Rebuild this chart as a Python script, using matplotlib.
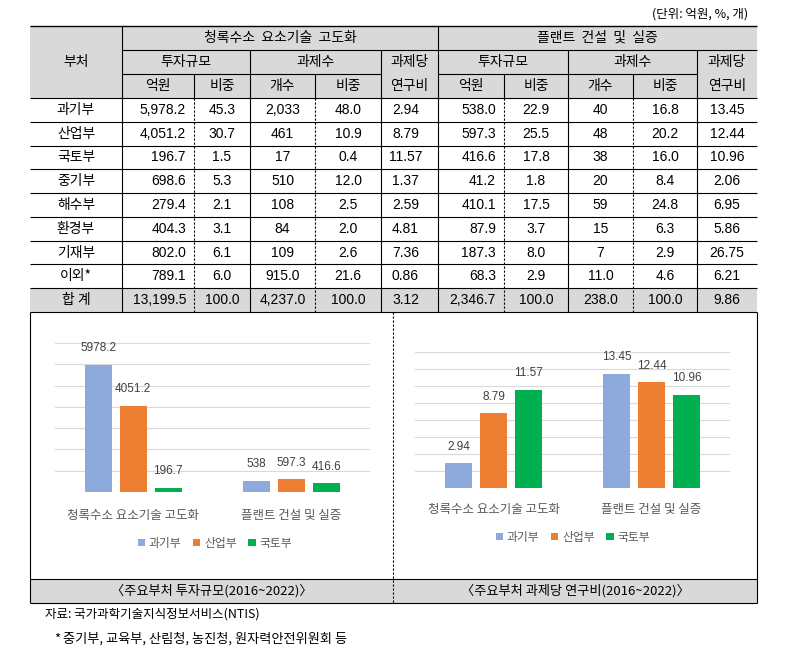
import matplotlib
matplotlib.use('Agg')
import matplotlib.pyplot as plt
import numpy as np
from matplotlib.patches import Rectangle

# ---------------- data ----------------
depts = ['과기부', '산업부', '국토부', '중기부', '해수부', '환경부', '기재부', '이외*', '합 계']
a_won = ['5,978.2', '4,051.2', '196.7', '698.6', '279.4', '404.3', '802.0', '789.1', '13,199.5']
a_share = ['45.3', '30.7', '1.5', '5.3', '2.1', '3.1', '6.1', '6.0', '100.0']
a_cnt = ['2,033', '461', '17', '510', '108', '84', '109', '915.0', '4,237.0']
a_cshare = ['48.0', '10.9', '0.4', '12.0', '2.5', '2.0', '2.6', '21.6', '100.0']
a_per = ['2.94', '8.79', '11.57', '1.37', '2.59', '4.81', '7.36', '0.86', '3.12']
b_won = ['538.0', '597.3', '416.6', '41.2', '410.1', '87.9', '187.3', '68.3', '2,346.7']
b_share = ['22.9', '25.5', '17.8', '1.8', '17.5', '3.7', '8.0', '2.9', '100.0']
b_cnt = ['40', '48', '38', '20', '59', '15', '7', '11.0', '238.0']
b_cshare = ['16.8', '20.2', '16.0', '8.4', '24.8', '6.3', '2.9', '4.6', '100.0']
b_per = ['13.45', '12.44', '10.96', '2.06', '6.95', '5.86', '26.75', '6.21', '9.86']

chart_groups = ['청록수소 요소기술 고도화', '플랜트 건설 및 실증']
chart_series = ['과기부', '산업부', '국토부']
invest_msit = [5978.2, 538]
invest_motie = [4051.2, 597.3]
invest_molit = [196.7, 416.6]
perproj_msit = [2.94, 13.45]
perproj_motie = [8.79, 12.44]
perproj_molit = [11.57, 10.96]

colors = ['#8EA9DB', '#ED7D31', '#00B050']

# ---------------- figure ----------------
W, H = 792, 663
fig = plt.figure(figsize=(W / 100, H / 100), dpi=100)
bg = fig.add_axes([0, 0, 1, 1])
bg.set_xlim(0, W)
bg.set_ylim(H, 0)
bg.axis('off')

FAM = ['Liberation Sans', 'Noto Sans CJK KR']
KFAM = ['Noto Sans CJK KR', 'Liberation Sans']
GRAY = '#D9D9D9'
LW = 0.8
DASH = (0, (2.0, 1.6))
KS = 10  # korean table text size


def hl(y, x0, x1, ls='-', lw=LW):
    bg.plot([x0, x1], [y, y], color='black', lw=lw, ls=ls, solid_capstyle='butt')


def vl(x, y0, y1, ls='-', lw=LW):
    bg.plot([x, x], [y0, y1], color='black', lw=lw, ls=ls, solid_capstyle='butt')


def ktext(x, y, s, size=KS, ha='center', **kw):
    bg.text(x, y, s, ha=ha, va='center', fontsize=size, family=KFAM, **kw)


def ntext(x, y, s, size=10, ha='center', **kw):
    bg.text(x, y, s, ha=ha, va='center', fontsize=size, family=FAM, **kw)


# geometry
L, R = 30, 757
T0, T1, T2, T3 = 26, 50, 74, 98
TB = 312
nrows = len(depts)
rh = (TB - T3) / nrows
cx = [30, 122, 194, 250, 315, 381, 438, 504, 568, 633, 697, 757]

# gray fills
bg.add_patch(Rectangle((L, T0), R - L, T3 - T0, color=GRAY, lw=0, zorder=0))
bg.add_patch(Rectangle((L, T3 + rh * (nrows - 1)), R - L, rh, color=GRAY, lw=0, zorder=0))
CAP0, CAP1 = 579, 603
bg.add_patch(Rectangle((L, CAP0), R - L, CAP1 - CAP0, color=GRAY, lw=0, zorder=0))

# unit
ktext(748, 14, '(단위: 억원, %, 개)', size=9, ha='right')

# horizontal lines
hl(T0, L, R, lw=1.0)
hl(T1, cx[1], R)
hl(T2, cx[1], cx[5])
hl(T2, cx[6], cx[10])
for i in range(nrows + 1):
    hl(T3 + i * rh, L, R)

# vertical lines
for x in (cx[1], cx[6]):
    vl(x, T0, TB)
for x in (cx[3], cx[5], cx[8], cx[10]):
    vl(x, T1, TB)
for x in (cx[2], cx[4], cx[7], cx[9]):
    vl(x, T2, T3)
    vl(x, T3, TB, ls=DASH)

# header texts
ktext((cx[0] + cx[1]) / 2, (T0 + T3) / 2, '부처')
ktext((cx[1] + cx[6]) / 2, (T0 + T1) / 2, '청록수소  요소기술  고도화')
ktext((cx[6] + cx[11]) / 2, (T0 + T1) / 2, '플랜트  건설  및  실증')
for base in (1, 6):
    ktext((cx[base] + cx[base + 2]) / 2, (T1 + T2) / 2, '투자규모')
    ktext((cx[base + 2] + cx[base + 4]) / 2, (T1 + T2) / 2, '과제수')
    ktext((cx[base + 4] + cx[base + 5]) / 2, (T1 + T2) / 2, '과제당')
    ktext((cx[base + 4] + cx[base + 5]) / 2, (T2 + T3) / 2, '연구비')
    ktext((cx[base] + cx[base + 1]) / 2, (T2 + T3) / 2, '억원')
    ktext((cx[base + 1] + cx[base + 2]) / 2, (T2 + T3) / 2, '비중')
    ktext((cx[base + 2] + cx[base + 3]) / 2, (T2 + T3) / 2, '개수')
    ktext((cx[base + 3] + cx[base + 4]) / 2, (T2 + T3) / 2, '비중')

# body
cols = [a_won, a_share, a_cnt, a_cshare, a_per, b_won, b_share, b_cnt, b_cshare, b_per]
for i in range(nrows):
    yc = T3 + rh * (i + 0.5)
    ktext((cx[0] + cx[1]) / 2, yc, depts[i])
    for j, col in enumerate(cols):
        x0, x1 = cx[j + 1], cx[j + 2]
        if j in (0, 5):
            ntext(x1 - 8, yc, col[i], ha='right')
        elif j == 4:
            ntext((x0 + x1) / 2 - 4, yc, col[i])
        else:
            ntext((x0 + x1) / 2, yc, col[i])

# panel borders
MID = 393
vl(L, TB, CAP1)
vl(R, TB, CAP1)
vl(MID, TB, CAP1, ls=DASH)
hl(CAP0, L, R)
hl(CAP1, L, R)
ktext((L + MID) / 2, (CAP0 + CAP1) / 2, '〈주요부처 투자규모(2016~2022)〉', size=9.5)
ktext((MID + R) / 2, (CAP0 + CAP1) / 2, '〈주요부처 과제당 연구비(2016~2022)〉', size=9.5)

# footnotes
ktext(45, 614, '자료: 국가과학기술지식정보서비스(NTIS)', size=9, ha='left')
ktext(54, 639, '*', size=9.5, ha='left')
ktext(63, 639, '중기부, 교육부, 산림청, 농진청, 원자력안전위원회 등', size=9.5, ha='left')


# ---------------- bar charts ----------------
def make_chart(px_l, px_r, px_top, px_base, ymax, ystep, c0, c1, series, legend_xy, tick_pad):
    ax = fig.add_axes([px_l / W, (H - px_base) / H, (px_r - px_l) / W, (px_base - px_top) / H])
    unit = c1 - c0
    offs = 35 / unit
    width = 27 / unit
    x = np.arange(len(chart_groups))
    handles = []
    for k, (vals, col) in enumerate(zip(series, colors)):
        bars = ax.bar(x + (k - 1) * offs, vals, width, color=col, zorder=3, label=chart_series[k])
        ax.bar_label(bars, labels=[f'{v:g}' for v in vals], padding=7.5, fontsize=8.5,
                     color='#404040', family=FAM)
        handles.append(bars)
    ax.set_ylim(0, ymax)
    ax.set_xlim(-(c0 - px_l) / unit, 1 + (px_r - c1) / unit)
    ax.set_yticks(np.arange(0, ymax + ystep / 2, ystep))
    ax.yaxis.grid(True, color=GRAY, lw=0.8, zorder=0)
    ax.set_axisbelow(True)
    ax.tick_params(axis='y', length=0, labelleft=False)
    ax.set_xticks(x)
    ax.set_xticklabels(chart_groups, fontsize=9, color='#595959', family=KFAM)
    ax.tick_params(axis='x', length=0, pad=tick_pad)
    for s in ax.spines.values():
        s.set_visible(False)
    ax.patch.set_alpha(0)
    ax.legend(handles=handles, loc='center',
              bbox_to_anchor=(legend_xy[0] / W, 1 - legend_xy[1] / H),
              bbox_transform=fig.transFigure, ncol=3, frameon=False,
              prop={'family': KFAM, 'size': 8.5}, labelcolor='#595959',
              handlelength=0.6, handleheight=0.6, handletextpad=0.3, columnspacing=1.0)
    return ax


make_chart(55, 370, 343, 492, 7000, 1000, 133, 291.5,
           [invest_msit, invest_motie, invest_molit], (215, 543), 12)
make_chart(415, 730, 352, 488, 16, 2, 493.5, 651.5,
           [perproj_msit, perproj_motie, perproj_molit], (573, 537), 11)

fig.savefig('out.png', dpi=100)
